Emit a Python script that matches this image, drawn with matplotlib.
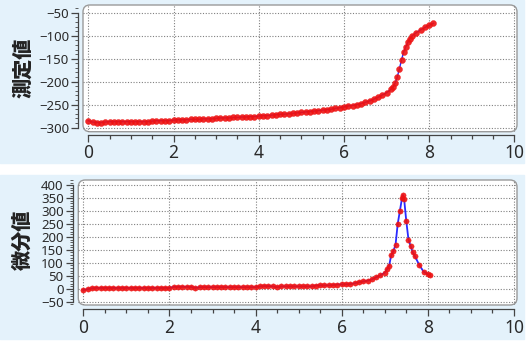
import matplotlib
matplotlib.use("Agg")
import matplotlib.pyplot as plt
from matplotlib.patches import FancyBboxPatch, Rectangle
from matplotlib.ticker import MultipleLocator

plt.rcParams['font.family'] = ['Noto Sans', 'Noto Sans CJK JP', 'DejaVu Sans']

# ---- data ----
vol = [0.0, 0.1, 0.2, 0.3, 0.4, 0.5, 0.6, 0.7, 0.8, 0.9,
       1.0, 1.1, 1.2, 1.3, 1.4, 1.5, 1.6, 1.7, 1.8, 1.9,
       2.0, 2.1, 2.2, 2.3, 2.4, 2.5, 2.6, 2.7, 2.8, 2.9,
       3.0, 3.1, 3.2, 3.3, 3.4, 3.5, 3.6, 3.7, 3.8, 3.9,
       4.0, 4.1, 4.2, 4.3, 4.4, 4.5, 4.6, 4.7, 4.8, 4.9,
       5.0, 5.1, 5.2, 5.3, 5.4, 5.5, 5.6, 5.7, 5.8, 5.9,
       6.0, 6.1, 6.2, 6.3, 6.4, 6.5, 6.6, 6.7, 6.8, 6.9,
       7.0, 7.1, 7.15, 7.2, 7.25, 7.3, 7.35, 7.4, 7.45, 7.5,
       7.55, 7.6, 7.7, 7.8, 7.9, 8.0, 8.1]
measured = [-285, -288, -289, -289, -288, -287, -287, -287, -287, -287,
            -287, -287, -287, -287, -287, -286, -285, -285, -285, -285,
            -284, -283, -283, -283, -282, -282, -282, -281, -281, -281,
            -280, -279, -279, -279, -278, -278, -277, -277, -276, -276,
            -275, -274, -274, -273, -272, -271, -271, -270, -269, -268,
            -267, -266, -265, -264, -263, -262, -261, -260, -258, -257,
            -255, -253, -252, -250, -248, -245, -242, -238, -234, -229,
            -224, -217, -212, -203, -190, -172, -153, -135, -124, -114,
            -106, -100, -93, -87, -82, -77, -73]

vol_d = [0.0, 0.1, 0.2, 0.3, 0.4, 0.5, 0.6, 0.7, 0.8, 0.9,
         1.0, 1.1, 1.2, 1.3, 1.4, 1.5, 1.6, 1.7, 1.8, 1.9,
         2.0, 2.1, 2.2, 2.3, 2.4, 2.5, 2.6, 2.7, 2.8, 2.9,
         3.0, 3.1, 3.2, 3.3, 3.4, 3.5, 3.6, 3.7, 3.8, 3.9,
         4.0, 4.1, 4.2, 4.3, 4.4, 4.5, 4.6, 4.7, 4.8, 4.9,
         5.0, 5.1, 5.2, 5.3, 5.4, 5.5, 5.6, 5.7, 5.8, 5.9,
         6.0, 6.1, 6.2, 6.3, 6.4, 6.5, 6.6, 6.7, 6.8, 6.9,
         7.0, 7.05, 7.1, 7.15, 7.2, 7.25, 7.3, 7.35, 7.4, 7.42,
         7.45, 7.5, 7.55, 7.6, 7.65, 7.7, 7.8, 7.9, 8.0, 8.05]
derivative = [-5, -2, 2, 3, 3, 3, 3, 3, 3, 3,
              3, 3, 3, 3, 3, 3, 3, 3, 3, 3,
              3, 7, 7, 7, 7, 7, 3, 6, 6, 6,
              6, 6, 6, 6, 6, 6, 6, 6, 6, 6,
              6, 9, 10, 10, 9, 6, 9, 9, 9, 9,
              9, 9, 9, 9, 12, 13, 13, 13, 14, 16,
              17, 17, 18, 21, 25, 28, 31, 36, 44, 52,
              62, 75, 88, 130, 145, 170, 250, 300, 350, 362,
              345, 260, 190, 165, 140, 125, 92, 66, 56, 52]

x_ticks = [0, 2, 4, 6, 8, 10]
top_yticks = [-300, -250, -200, -150, -100, -50]
bot_yticks = [-50, 0, 50, 100, 150, 200, 250, 300, 350, 400]

W, H = 529, 344
fig = plt.figure(figsize=(W / 100, H / 100), dpi=100)
fig.patch.set_facecolor('white')

bg = '#e4f2fb'
fig.patches.append(Rectangle((0, 1 - 163 / H), 524 / W, 163 / H,
                             transform=fig.transFigure, color=bg, zorder=-10))
fig.patches.append(Rectangle((0, 1 - 339 / H), 524 / W, (339 - 175) / H,
                             transform=fig.transFigure, color=bg, zorder=-10))


def setup(ax, box_px, xlim, ylim, yticks, ylabel, ylabel_y, out_left, out_bottom):
    l, t, r, b = box_px
    ax.set_position([l / W, 1 - b / H, (r - l) / W, (b - t) / H])
    ax.patch.set_visible(False)
    ax.set_xlim(*xlim)
    ax.set_ylim(*ylim)
    wpx, hpx = r - l, b - t
    box = FancyBboxPatch((0, 0), 1, 1, boxstyle="round,pad=0,rounding_size=%f" % (7 / wpx),
                         mutation_aspect=wpx / hpx,
                         transform=ax.transAxes, facecolor='white',
                         edgecolor='#9a9a9a', linewidth=1.0, clip_on=False, zorder=0.5)
    ax.add_patch(box)
    for s in ['top', 'right']:
        ax.spines[s].set_visible(False)
    ax.spines['left'].set_position(('outward', out_left))
    ax.spines['bottom'].set_position(('outward', out_bottom))
    ax.spines['left'].set_bounds(yticks[0], yticks[-1])
    ax.spines['bottom'].set_bounds(0, 10)
    for s in ['left', 'bottom']:
        ax.spines[s].set_color('#444444')
        ax.spines[s].set_linewidth(0.9)
    ax.set_xticks(x_ticks)
    ax.xaxis.set_minor_locator(MultipleLocator(0.5))
    ax.set_yticks(yticks)
    ax.yaxis.set_minor_locator(MultipleLocator(10))
    ax.tick_params(axis='x', which='major', length=5, width=0.9, color='#444444',
                   labelsize=12.5, labelcolor='#2a2a2a', pad=2)
    ax.tick_params(axis='x', which='minor', length=3, width=0.9, color='#444444')
    ax.tick_params(axis='y', which='major', length=5, width=0.9, color='#444444',
                   labelsize=9.5, labelcolor='#2a2a2a', pad=1.5)
    ax.tick_params(axis='y', which='minor', length=2.5, width=0.6, color='#444444')
    ax.grid(True, which='major', linestyle=(0, (1, 1.5)), color='#808080', linewidth=0.8)
    fig.text(23 / W, 1 - ylabel_y / H, ylabel, rotation=90, ha='center', va='center',
             fontsize=14.5, fontweight='heavy', family=['Noto Sans CJK JP'], color='#222222')


ax1 = fig.add_axes([0, 0, 1, 1])
setup(ax1, (83, 5, 517, 131.7), (-0.124, 10.06), (-309, -33), top_yticks,
      '測定値', 68, 3.6, 2.2)
ax1.plot(vol, measured, color='#2a2aff', linewidth=1.0, zorder=3)
ax1.plot(vol, measured, linestyle='none', marker='o', markersize=4.3,
         markerfacecolor='#ee1111', markeredgecolor='#ee1111', markeredgewidth=0.3,
         alpha=0.9, zorder=4)

ax2 = fig.add_axes([0, 0, 1, 1])
setup(ax2, (78.3, 180, 517, 305), (-0.116, 10.07), (-63, 420), bot_yticks,
      '微分値', 240, 4.0, 2.8)
ax2.plot(vol_d, derivative, color='#2a2aff', linewidth=1.3, zorder=3)
ax2.plot(vol_d, derivative, linestyle='none', marker='o', markersize=3.8,
         markerfacecolor='#ee1111', markeredgecolor='#ee1111', markeredgewidth=0.3,
         alpha=0.9, zorder=4)

fig.savefig('out.png', dpi=100, facecolor=fig.get_facecolor())
